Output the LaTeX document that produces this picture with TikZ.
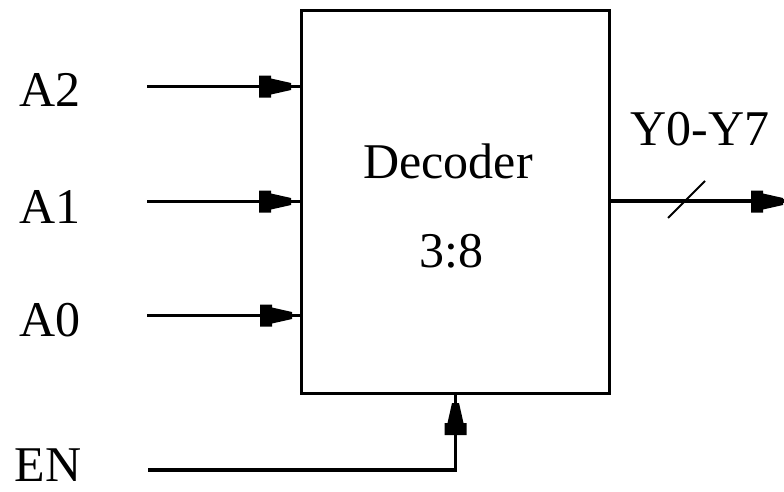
\documentclass[tikz,border=0pt]{standalone}
\usepackage{fontspec}
\setmainfont{Liberation Serif}
\begin{document}
\begin{tikzpicture}[x=1pt,y=-1pt,
  wire/.style={line width=3.3pt},
  lbl/.style={inner sep=0pt,anchor=base,font=\fontsize{50}{50}\selectfont},
  hd/.pic={\fill (-32,-11) -- (-20,-11) -- (-20,-8) -- (0,-3.5) -- (0,3.5) -- (-20,8) -- (-20,11) -- (-32,11) -- cycle;}]
\useasboundingbox (0,0) rectangle (784,491);
% box
\node (box) [draw, wire, inner sep=0pt, minimum width=307.6pt, minimum height=382.8pt] at (455.5,202.1) {};
\node (dec) [lbl] at (448,178) {Decoder};
\node (rat) [lbl] at (451.5,267) {3:8};
% input labels
\node (a2) [lbl] at (50,106) {A2};
\node (a1) [lbl] at (50,223) {A1};
\node (a0) [lbl] at (50,336) {A0};
\node (en) [lbl] at (48,481) {EN};
\node (yl) [lbl] at (700,145) {Y0-Y7};
% input wires
\coordinate (s2) at (147,86.5);
\coordinate (s1) at (147,201.5);
\coordinate (s0) at (147,315.5);
\draw[wire] (s2) -- (box.west |- s2);
\draw[wire] (s1) -- (box.west |- s1);
\draw[wire] (s0) -- (box.west |- s0);
\pic at (291,86.5) {hd};
\pic at (291,201.5) {hd};
\pic at (292,315.5) {hd};
% enable
\coordinate (e0) at (148,470);
\draw[wire] (e0) -- (box.south |- e0) -- (box.south);
\pic[rotate=90] at (box.south |- 0,403) {hd};
% output
\coordinate (yo) at (784,201);
\draw[wire] (box.east |- yo) -- (yo);
\pic at (783,201.5) {hd};
\draw[line width=2pt] (668,218) -- (705,181);
\end{tikzpicture}
\end{document}
